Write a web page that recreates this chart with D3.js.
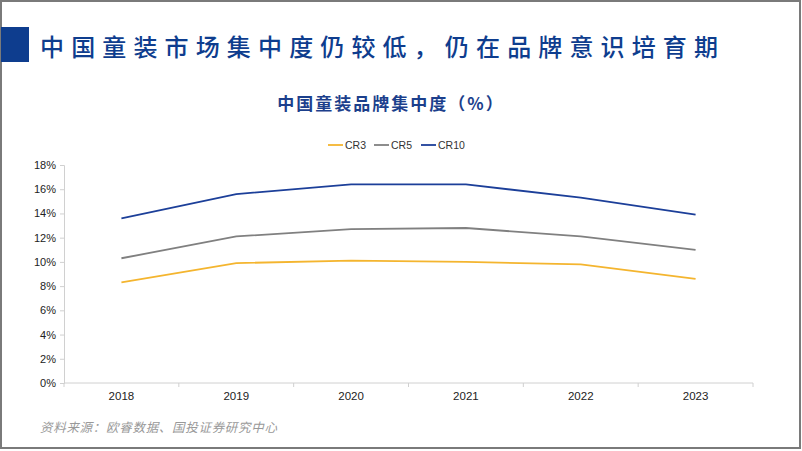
<!DOCTYPE html>
<html><head><meta charset="utf-8">
<script src="https://cdn.jsdelivr.net/npm/d3@7"></script>
<style>html,body{margin:0;padding:0;background:#fff;}svg{display:block;}</style>
</head><body>
<svg id="chart" width="802" height="451"></svg>
<script>
const years = ["2018","2019","2020","2021","2022","2023"];
const cr3 = [8.3, 9.9, 10.1, 10.0, 9.8, 8.6];
const cr5 = [10.3, 12.1, 12.7, 12.8, 12.1, 11.0];
const cr10 = [13.6, 15.6, 16.4, 16.4, 15.3, 13.9];
const yTicks = [0,2,4,6,8,10,12,14,16,18];
const seriesNames = ["CR3","CR5","CR10"];
const seriesColors = ["#f4b52f","#808080","#1c3f99"];
const mainTitle = "中国童装市场集中度仍较低，仍在品牌意识培育期";
const chartTitle = "中国童装品牌集中度（%）";
const sourceText = "资料来源：欧睿数据、国投证券研究中心";

const svg = d3.select("#chart");
const W = 802, H = 451;

// frame
svg.append("rect").attr("x",1).attr("y",1).attr("width",W-3).attr("height",H-4)
  .attr("fill","none").attr("stroke","#7a7a7a").attr("stroke-width",2);

// header
svg.append("rect").attr("x",1).attr("y",27).attr("width",28).attr("height",35).attr("fill","#0e3d8e");
svg.append("text").attr("x",40).attr("y",56).text(mainTitle)
  .attr("font-family","'Noto Sans CJK SC'").attr("font-size",24).attr("font-weight",500)
  .attr("fill","#0e3d8e").attr("textLength",678).attr("lengthAdjust","spacing");

// chart title
svg.append("text").attr("x",391).attr("y",110).attr("text-anchor","middle").text(chartTitle)
  .attr("font-family","'Noto Sans CJK SC'").attr("font-size",17).attr("font-weight",700)
  .attr("fill","#1c3f8c").attr("letter-spacing",2);

const x = d3.scaleBand().domain(years).range([64,753]);
const y = d3.scaleLinear().domain([0,18]).range([383,165]);

// y axis
const ya = svg.append("g").attr("transform","translate(64,0)")
  .call(d3.axisLeft(y).tickValues(yTicks).tickFormat(d=>d+"%").tickSize(4).tickPadding(4));
ya.select(".domain").attr("stroke","#d0d0d0");
ya.selectAll(".tick line").attr("stroke","#d0d0d0");
ya.selectAll("text").attr("font-family","Arial, 'Liberation Sans'").attr("font-size",11).attr("fill","#222");

// x axis
const xa = svg.append("g").attr("transform","translate(0,383)")
  .call(d3.axisBottom(x).tickSize(0).tickPadding(9));
xa.select(".domain").attr("stroke","#d0d0d0").attr("d","M64,0H753");
xa.selectAll("text").attr("font-family","Arial, 'Liberation Sans'").attr("font-size",11.5).attr("fill","#222");
const bounds = years.map(d=>x(d)).concat([x.range()[1]]);
xa.selectAll(".sep").data(bounds).join("line").attr("class","sep")
  .attr("x1",d=>d).attr("x2",d=>d).attr("y1",0).attr("y2",4).attr("stroke","#d0d0d0");

// lines
const data = [cr3, cr5, cr10];
const line = d3.line().x((d,i)=>x(years[i])+x.bandwidth()/2).y(d=>y(d));
svg.selectAll(".series").data(data).join("path").attr("class","series")
  .attr("d",line).attr("fill","none")
  .attr("stroke",(d,i)=>seriesColors[i]).attr("stroke-width",1.8);

// legend
const legX = [328, 374, 421];
const lg = svg.append("g");
seriesNames.forEach((n,i)=>{
  lg.append("line").attr("x1",legX[i]).attr("x2",legX[i]+15).attr("y1",145).attr("y2",145)
    .attr("stroke",seriesColors[i]).attr("stroke-width",1.8);
  lg.append("text").attr("x",legX[i]+17).attr("y",149).text(n)
    .attr("font-family","Arial, 'Liberation Sans'").attr("font-size",10.5).attr("fill","#333");
});

// source
svg.append("text").attr("x",40).attr("y",432).text(sourceText)
  .attr("font-family","'Noto Sans CJK SC'").attr("font-size",12.5).attr("font-style","italic")
  .attr("fill","#999").attr("textLength",237).attr("lengthAdjust","spacing");
</script>
</body></html>
